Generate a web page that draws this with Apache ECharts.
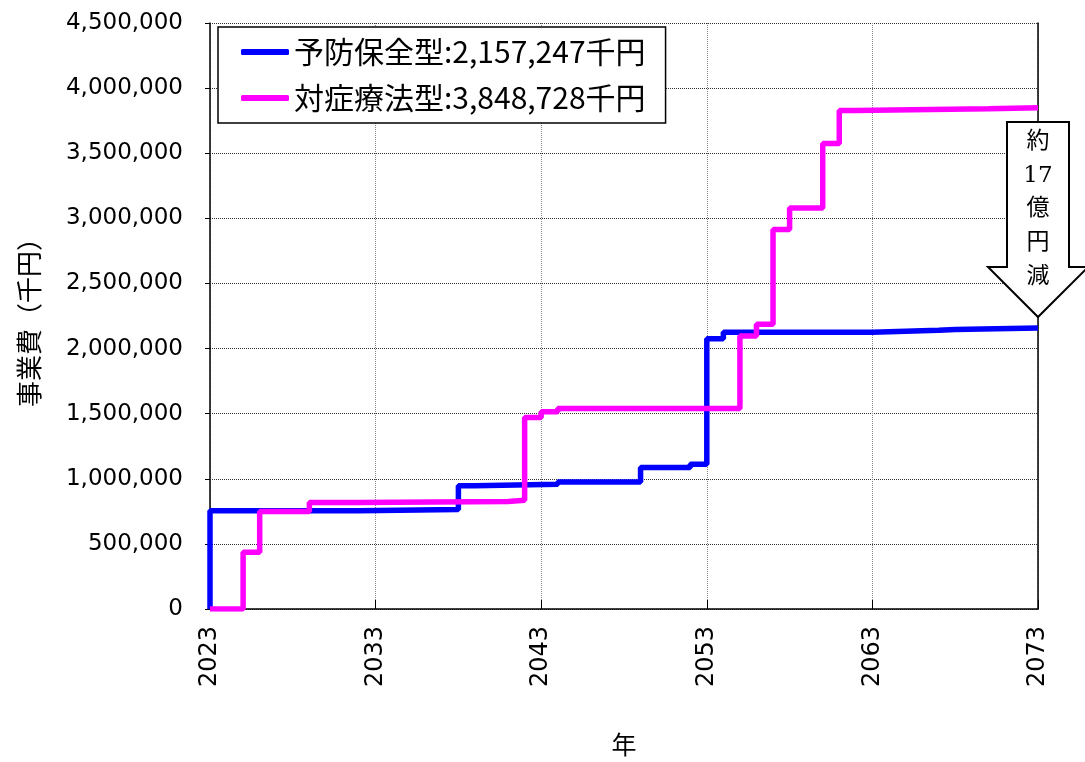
<!DOCTYPE html>
<html>
<head>
<meta charset="utf-8">
<title>事業費の推移</title>
<script src="https://cdn.jsdelivr.net/npm/echarts@6/dist/echarts.min.js"></script>
<style>
  html, body { margin: 0; padding: 0; background: #fff; }
  #chart { width: 1085px; height: 762px; }
</style>
</head>
<body>
<div id="chart"></div>
<script>
// 予防保全型：段差が生じる年と累計事業費（千円）
const preventYears  = [2023, 2023, 2032, 2038, 2039, 2044, 2049, 2052, 2053, 2054, 2063, 2067, 2068, 2073];
const preventValues = [0, 755000, 765000, 946000, 958000, 976000, 1087000, 1112000, 2076000, 2125000, 2140000, 2147000, 2157247, 2157247];

// 対症療法型
const reactiveYears  = [2023, 2025, 2026, 2029, 2032, 2041, 2042, 2043, 2044, 2055, 2056, 2057, 2058, 2060, 2061, 2062, 2070, 2073];
const reactiveValues = [0, 435000, 749000, 818000, 826000, 836000, 1470000, 1515000, 1540000, 2096000, 2186000, 2914000, 3080000, 3574000, 3829000, 3842000, 3848728, 3848728];

const seriesNames = ['予防保全型', '対症療法型'];
const seriesColors = ['#0000ff', '#ff00ff'];

// 軸
const yearStart = 2023, yearEnd = 2073, yearStep = 10;
const yMax = 4500000, yStep = 500000;

// 注記（矢印の中の文字）
const noteLines = ['約', '17', '億', '円', '減'];

const CJK = '"Noto Sans CJK JP", sans-serif';

function comma(n) {
    return String(Math.round(n)).replace(/\B(?=(\d{3})+(?!\d))/g, ',');
}

// x軸は基準年からの経過年で持つ（目盛りを2023から10年ごとにするため）
function toPoints(years, values) {
    return years.map((y, i) => [y - yearStart, values[i]]);
}

const totals = {};
totals[seriesNames[0]] = preventValues[preventValues.length - 1];
totals[seriesNames[1]] = reactiveValues[reactiveValues.length - 1];

const chart = echarts.init(document.getElementById('chart'));

const option = {
    animation: false,
    grid: { left: 210, right: 47, top: 23, bottom: 152 },
    xAxis: {
        type: 'value',
        min: 0,
        max: yearEnd - yearStart,
        interval: yearStep,
        name: '年',
        nameLocation: 'middle',
        nameGap: 123,
        nameTextStyle: { fontFamily: CJK, fontSize: 25, color: '#000' },
        axisLine: { onZero: false, lineStyle: { color: '#000', width: 1.5 } },
        axisTick: { inside: true, length: 9, lineStyle: { color: '#000' } },
        axisLabel: {
            rotate: 90,
            margin: 17,
            fontFamily: 'DejaVu Sans',
            fontSize: 24,
            color: '#000',
            formatter: v => String(v + yearStart)
        },
        splitLine: { show: true, lineStyle: { type: 'dotted', color: '#888', width: 1 } }
    },
    yAxis: [{
        type: 'value',
        min: 0,
        max: yMax,
        interval: yStep,
        name: '事業費（千円）',
        nameLocation: 'middle',
        nameGap: 168,
        nameRotate: 90,
        nameTextStyle: { fontFamily: CJK, fontSize: 26, color: '#000' },
        axisLine: { show: true, lineStyle: { color: '#000', width: 1.5 } },
        axisTick: { show: true, length: 5, lineStyle: { color: '#000' } },
        axisLabel: {
            margin: 27,
            fontFamily: 'DejaVu Sans',
            fontSize: 23,
            color: '#000',
            formatter: v => comma(v)
        },
        splitLine: { show: true, lineStyle: { type: 'dotted', color: '#333', width: 1 } }
    }, {
        // 右側の枠線だけ
        type: 'value',
        min: 0,
        max: yMax,
        position: 'right',
        axisLine: { show: true, lineStyle: { color: '#000', width: 1.5 } },
        axisTick: { show: false },
        axisLabel: { show: false },
        splitLine: { show: false }
    }],
    legend: {
        orient: 'vertical',
        left: 218,
        top: 27,
        data: seriesNames,
        icon: 'roundRect',
        itemWidth: 48,
        itemHeight: 6,
        itemGap: 16,
        padding: [10, 20, 10, 23],
        borderColor: '#000',
        borderWidth: 1.5,
        backgroundColor: '#fff',
        textStyle: { fontFamily: CJK, fontSize: 30, color: '#000' },
        formatter: name => name + ':' + comma(totals[name]) + '千円'
    },
    series: [{
        name: seriesNames[0],
        type: 'line',
        step: 'end',
        showSymbol: false,
        symbol: 'none',
        data: toPoints(preventYears, preventValues),
        lineStyle: { color: seriesColors[0], width: 5.5 },
        itemStyle: { color: seriesColors[0] }
    }, {
        name: seriesNames[1],
        type: 'line',
        step: 'end',
        showSymbol: false,
        symbol: 'none',
        data: toPoints(reactiveYears, reactiveValues),
        lineStyle: { color: seriesColors[1], width: 5.5 },
        itemStyle: { color: seriesColors[1] }
    }]
};

chart.setOption(option);

// 矢印：先端を予防保全型の最終値の少し上に合わせる
const tip = chart.convertToPixel({ gridIndex: 0 }, [yearEnd - yearStart, totals[seriesNames[0]]]);
const tx = tip[0], ty = tip[1] - 11;
chart.setOption({
    graphic: [{
        type: 'polygon',
        z: 100,
        shape: {
            points: [
                [tx - 31, ty - 195], [tx + 31, ty - 195], [tx + 31, ty - 50],
                [tx + 50, ty - 50], [tx, ty], [tx - 50, ty - 50], [tx - 31, ty - 50]
            ]
        },
        style: { fill: '#fff', stroke: '#000', lineWidth: 2 }
    }, {
        type: 'text',
        z: 101,
        x: tx,
        y: ty - 192,
        style: {
            text: noteLines.join('\n'),
            fontFamily: '"DejaVu Serif", "Noto Sans CJK JP", serif',
            fontSize: 23,
            lineHeight: 33.7,
            fill: '#000',
            align: 'center',
            verticalAlign: 'top'
        }
    }]
});
</script>
</body>
</html>
